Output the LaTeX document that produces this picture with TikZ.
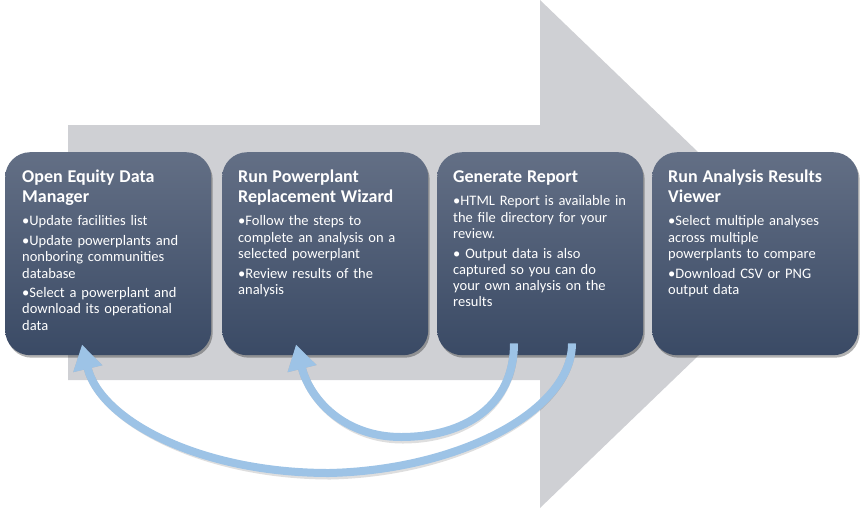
\documentclass[tikz,border=0pt]{standalone}
\usepackage{fontspec}
\setmainfont{Carlito}
\usetikzlibrary{arrows.meta,shadows}
\definecolor{bigarrow}{RGB}{207,208,212}
\definecolor{boxtop}{RGB}{99,111,133}
\definecolor{boxmid}{RGB}{72,87,112}
\definecolor{boxbot}{RGB}{58,74,101}
\definecolor{loopblue}{RGB}{157,195,230}
\newlength\bulw
\newcommand\bitem[1]{\par\settowidth\bulw{\textbullet}\hangindent=\bulw\hangafter=1\noindent\textbullet#1}
\newcommand\btitle[1]{{\fontsize{18}{20}\selectfont\bfseries\rule{0pt}{13pt}#1\par}\vspace{4pt}}
\begin{document}
\begin{tikzpicture}[x=1pt,y=-1pt,
  stepbox/.style={rounded corners=25pt, minimum width=206pt, minimum height=203pt,
    anchor=north west, inner sep=0pt, top color=boxtop, middle color=boxmid, bottom color=boxbot,
    drop shadow={shadow xshift=1.5pt, shadow yshift=-2.5pt, opacity=0.3, fill=black}},
  boxtext/.style={anchor=north west, inner sep=0pt, text width=200pt, align=left, text=white,
    font=\fontsize{14.5}{16.2}\selectfont},
  loopline/.style={draw=loopblue, line width=8pt, -{Triangle[width=28pt,length=25pt]}},
  loopshadow/.style={draw=black, opacity=0.13, line width=8pt, -{Triangle[width=28pt,length=25pt]},
    xshift=1.5pt, yshift=-2.5pt}
]
\useasboundingbox (0,0) rectangle (864,509);
% big background arrow
\fill[bigarrow] (68,125) -- (540,125) -- (540,0) -- (804,254) -- (540,508) -- (540,380) -- (68,380) -- cycle;

% boxes
\node[stepbox] (b1) at (5,152) {};
\node[stepbox] (b2) at (222,152) {};
\node[stepbox] (b3) at (437,152) {};
\node[stepbox] (b4) at (652,152) {};

\begin{scope}[every node/.append style={execute at begin node={\setlength\parskip{3.5pt}}}]
\node[boxtext] (t1) at (22,169) {\btitle{Open Equity Data\\Manager}%
  \bitem{Update facilities list}%
  \bitem{Update powerplants and\\nonboring communities\\database}%
  \bitem{Select a powerplant and\\download its operational\\data}};
\node[boxtext] (t2) at (238,169) {\btitle{Run Powerplant\\Replacement Wizard}%
  \bitem{Follow the steps to\\complete an analysis on a\\selected powerplant}%
  \bitem{Review results of the\\analysis}};
\node[boxtext] (t3) at (453,169) {\btitle{Generate Report}%
  \bitem{HTML Report is available in\\the file directory for your\\review.}%
  \bitem{\ Output data is also\\captured so you can do\\your own analysis on the\\results}};
\node[boxtext] (t4) at (668,169) {\btitle{Run Analysis Results\\Viewer}%
  \bitem{Select multiple analyses\\across multiple\\powerplants to compare}%
  \bitem{Download CSV or PNG\\output data}};
\end{scope}

% loop-back connectors
\coordinate (si) at ([xshift=77pt,yshift=12pt]b3.south west);
\coordinate (so) at ([xshift=135pt,yshift=12pt]b3.south west);
\coordinate (ti) at ([xshift=74pt,yshift=11pt]b2.south west);
\coordinate (to) at ([xshift=77pt,yshift=11pt]b1.south west);

\draw[loopshadow] (si) .. controls +(0,62) and +(64,0) .. (401,437) .. controls +(-56,0) and +(14,56) .. (ti);
\draw[loopshadow] (so) .. controls +(0,67) and +(131,-3) .. (329,473) .. controls +(-129,0) and +(18,76) .. (to);
\draw[loopline] (si) .. controls +(0,62) and +(64,0) .. (401,437) .. controls +(-56,0) and +(14,56) .. (ti);
\draw[loopline] (so) .. controls +(0,67) and +(131,-3) .. (329,473) .. controls +(-129,0) and +(18,76) .. (to);
\end{tikzpicture}
\end{document}
